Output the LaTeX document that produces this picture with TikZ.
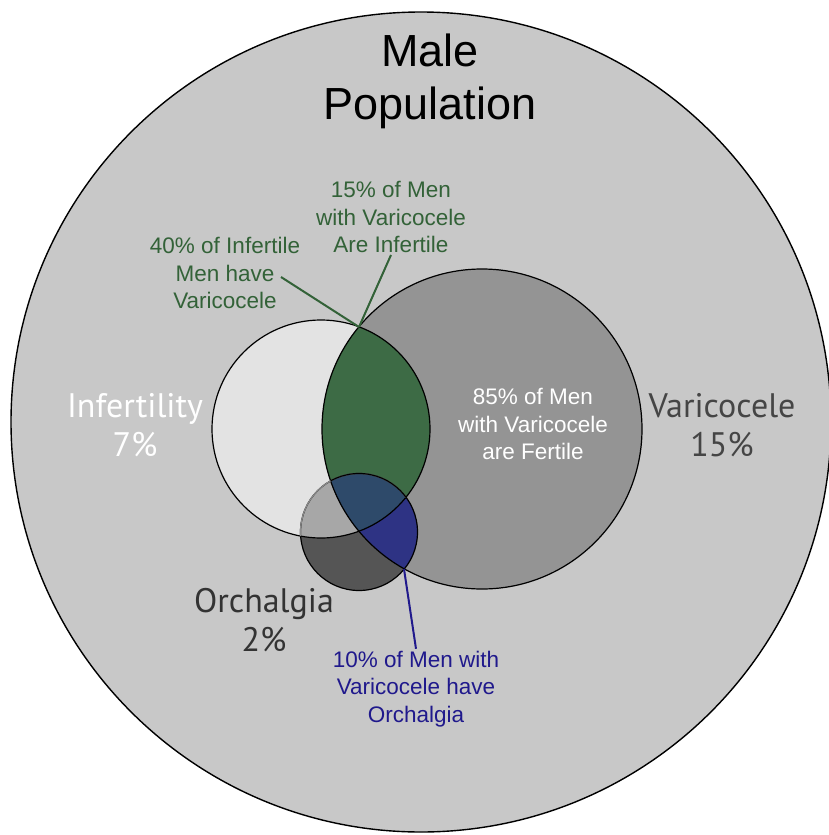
\documentclass[tikz,border=0pt]{standalone}
\usepackage{fontspec}
\setmainfont{Liberation Sans}
\newfontfamily\setfont{PT Sans}

\definecolor{popgray}{HTML}{C8C8C8}
\definecolor{infgray}{HTML}{E3E3E3}
\definecolor{vargray}{HTML}{949494}
\definecolor{infvar}{HTML}{3D6B45}
\definecolor{orchgray}{HTML}{555555}
\definecolor{orchinf}{HTML}{A7A7A7}
\definecolor{orchvar}{HTML}{2E3384}
\definecolor{orchall}{HTML}{2E4A6A}
\definecolor{notegreen}{HTML}{336238}
\definecolor{noteblue}{HTML}{20198C}

\newcommand{\infcirc}{(321,429) circle (109pt)}
\newcommand{\varcirc}{(482,429) circle (160pt)}
\newcommand{\orchcirc}{(359,532) circle (58.5pt)}

\tikzset{
  venn/.style={draw=black, line width=1.2pt},
  note/.style={align=center, inner sep=2pt, font=\fontsize{22.5}{27.5}\selectfont},
  setlabel/.style={align=center, font=\setfont\fontsize{34}{39}\selectfont},
  leader/.style={line width=2pt},
}

\begin{document}
\begin{tikzpicture}[x=1pt, y=-1pt]
  \useasboundingbox (0,0) rectangle (829,835);
  \fill[white] (0,0) rectangle (829,835);
  \filldraw[fill=popgray, draw=black, line width=1.4pt] (421,422) circle (410pt);

  % sets
  \fill[infgray] \infcirc;
  \fill[vargray] \varcirc;
  \begin{scope}
    \clip \infcirc;
    \fill[infvar] \varcirc;
  \end{scope}
  \fill[orchgray] \orchcirc;
  \begin{scope}
    \clip \orchcirc;
    \fill[orchinf] \infcirc;
    \fill[orchvar] \varcirc;
    \clip \infcirc;
    \fill[orchall] \varcirc;
  \end{scope}
  \draw[venn] \infcirc;
  \draw[venn] \varcirc;
  \draw[venn] \orchcirc;
  % orchalgia rim shows paler over infertility
  \begin{scope}
    \clip \infcirc;
    \draw[venn, draw=black!45] \orchcirc;
    \clip \varcirc;
    \draw[venn] \orchcirc;
  \end{scope}

  \coordinate (topcross) at (359,327);
  \coordinate (lowcross) at (404,569);
  \coordinate (menhave) at (281,277);

  % labels
  \node[font=\fontsize{45}{53}\selectfont, align=center] (male) at (430,81) {Male\\Population};
  \node[setlabel, text=white] (inflabel) at (135,425) {Infertility\\7\%};
  \node[setlabel, text=black!73] (varlabel) at (722,425) {Varicocele\\15\%};
  \node[setlabel, text=black!80] (orchlabel) at (264,620) {Orchalgia\\2\%};

  \node[note, text=notegreen] (inf15) at (391,217) {15\% of Men\\with Varicocele\\Are Infertile};
  \node[note, text=notegreen] (inf40) at (225,273) {40\% of Infertile\\Men have\\Varicocele};
  \node[note, text=white] (fert85) at (533,424) {85\% of Men\\with Varicocele\\are Fertile};
  \node[note, text=noteblue] (orch10) at (416,689) {10\% of Men with\\Varicocele have\\Orchalgia};

  \draw[leader, notegreen] (menhave) -- (topcross);
  \draw[leader, notegreen] (inf15.south) -- (topcross);
  \draw[leader, noteblue] (orch10.north) -- (lowcross);
\end{tikzpicture}
\end{document}
